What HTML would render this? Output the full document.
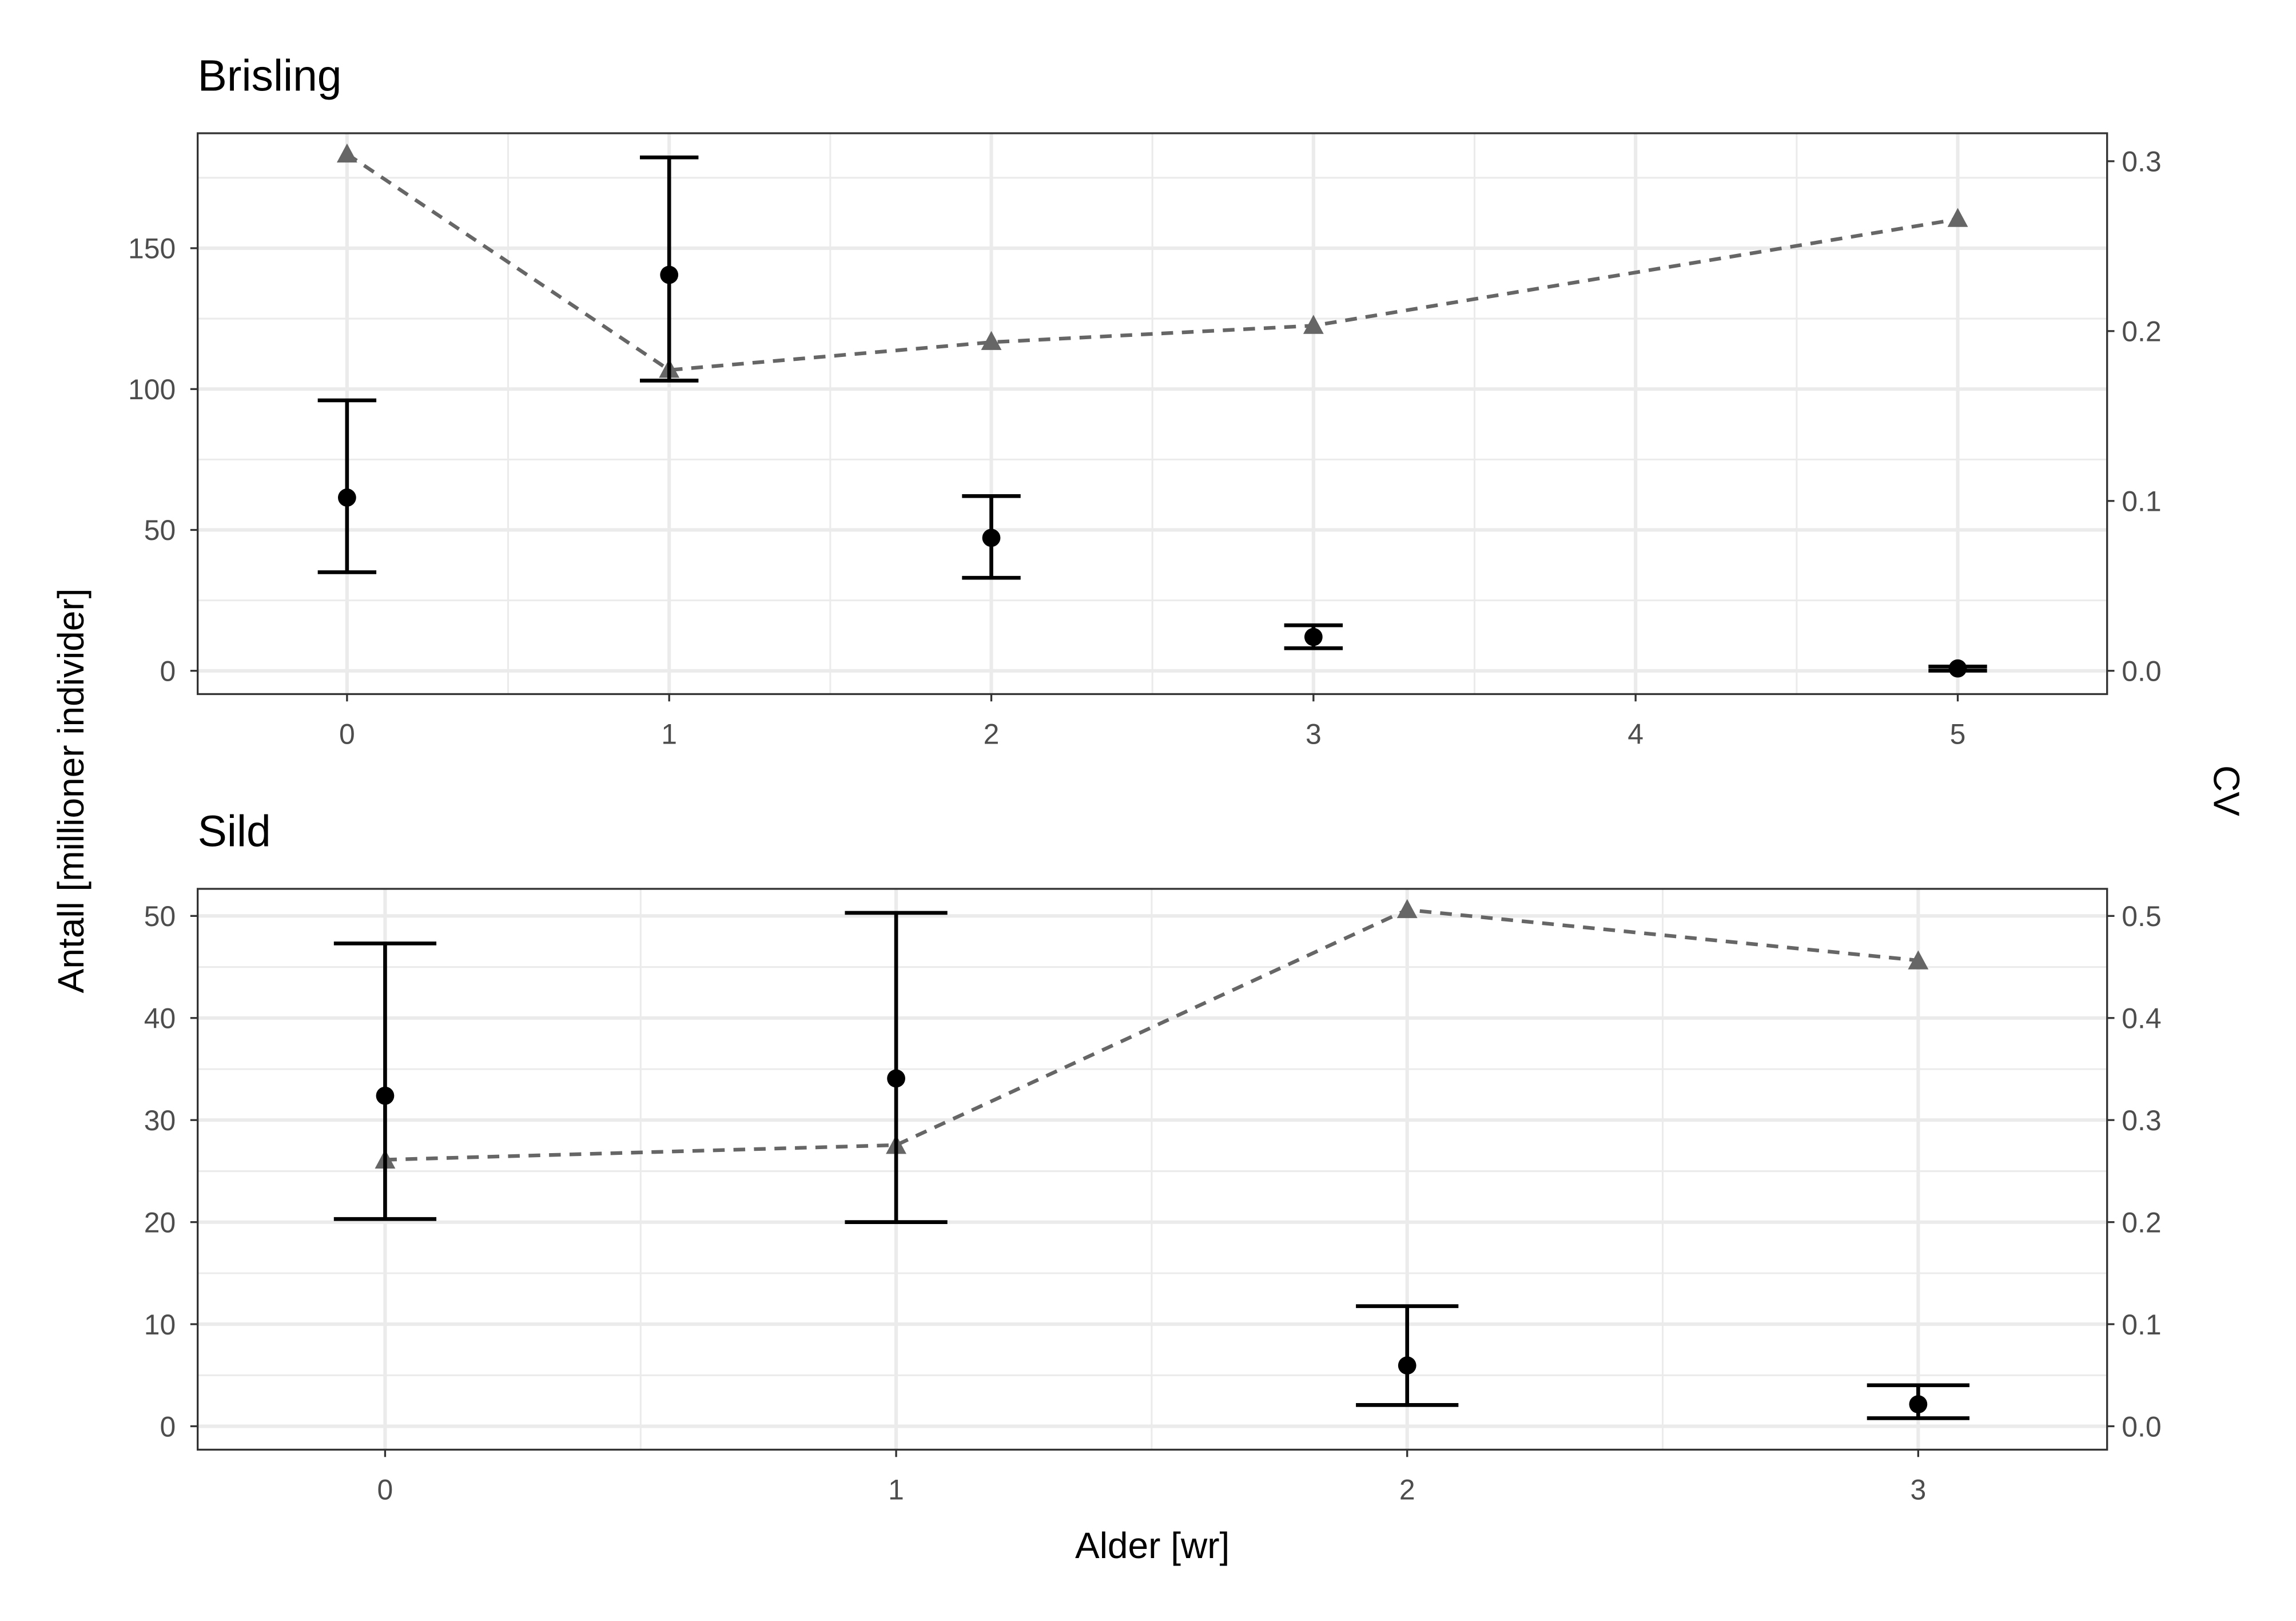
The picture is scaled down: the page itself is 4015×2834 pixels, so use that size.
<!DOCTYPE html>
<html><head><meta charset="utf-8"><style>html,body{margin:0;padding:0;background:#fff}svg{display:block}</style></head>
<body>
<svg width="4015" height="2834" viewBox="0 0 1568 1107" preserveAspectRatio="none" xmlns="http://www.w3.org/2000/svg" font-family="Liberation Sans, sans-serif">
<rect width="1568" height="1107" fill="#fff"/>
<!-- TOP PANEL -->
<g stroke="#ebebeb" stroke-width="1.2">
<line x1="135" x2="1439" y1="410" y2="410"/><line x1="135" x2="1439" y1="313.8" y2="313.8"/><line x1="135" x2="1439" y1="217.6" y2="217.6"/><line x1="135" x2="1439" y1="121.4" y2="121.4"/>
<line x1="347" x2="347" y1="91" y2="474"/><line x1="567" x2="567" y1="91" y2="474"/><line x1="787" x2="787" y1="91" y2="474"/><line x1="1007" x2="1007" y1="91" y2="474"/><line x1="1227" x2="1227" y1="91" y2="474"/>
</g>
<g stroke="#ebebeb" stroke-width="2.4">
<line x1="135" x2="1439" y1="458.1" y2="458.1"/><line x1="135" x2="1439" y1="361.9" y2="361.9"/><line x1="135" x2="1439" y1="265.7" y2="265.7"/><line x1="135" x2="1439" y1="169.5" y2="169.5"/>
<line x1="237" x2="237" y1="91" y2="474"/><line x1="457" x2="457" y1="91" y2="474"/><line x1="677" x2="677" y1="91" y2="474"/><line x1="897" x2="897" y1="91" y2="474"/><line x1="1117" x2="1117" y1="91" y2="474"/><line x1="1337" x2="1337" y1="91" y2="474"/>
</g>
<polyline points="237,105.2 457,252.7 677,233.7 897,222.4 1337,149.7" fill="none" stroke="#666" stroke-width="2.5" stroke-dasharray="8,6"/>
<g fill="#666">
<polygon points="237,98 230,111 244,111"/><polygon points="457,245 450,258 464,258"/><polygon points="677,226 670,239 684,239"/><polygon points="897,215 890,228 904,228"/><polygon points="1337,142 1330,155 1344,155"/>
</g>
<g stroke="#000" stroke-width="2.6" fill="none">
<path d="M217,273.4H257M237,273.4V390.8M217,390.8H257"/>
<path d="M437,107.5H477M457,107.5V259.9M437,259.9H477"/>
<path d="M657,338.8H697M677,338.8V394.6M657,394.6H697"/>
<path d="M877,427H917M897,427V442.7M877,442.7H917"/>
<path d="M1317,455.2H1357M1337,455.2V458M1317,458H1357"/>
</g>
<g fill="#000">
<circle cx="237" cy="339.8" r="6.2"/><circle cx="457" cy="187.7" r="6.2"/><circle cx="677" cy="367.3" r="6.2"/><circle cx="897" cy="435" r="6.2"/><circle cx="1337" cy="456.5" r="6.2"/>
</g>
<rect x="135" y="91" width="1304" height="383" fill="none" stroke="#333" stroke-width="1.3"/>
<g stroke="#333" stroke-width="1.3">
<line x1="130" x2="135" y1="458.1" y2="458.1"/><line x1="130" x2="135" y1="361.9" y2="361.9"/><line x1="130" x2="135" y1="265.7" y2="265.7"/><line x1="130" x2="135" y1="169.5" y2="169.5"/>
<line x1="1439" x2="1444" y1="458.1" y2="458.1"/><line x1="1439" x2="1444" y1="342.1" y2="342.1"/><line x1="1439" x2="1444" y1="226.1" y2="226.1"/><line x1="1439" x2="1444" y1="110.1" y2="110.1"/>
<line x1="237" x2="237" y1="474" y2="479"/><line x1="457" x2="457" y1="474" y2="479"/><line x1="677" x2="677" y1="474" y2="479"/><line x1="897" x2="897" y1="474" y2="479"/><line x1="1117" x2="1117" y1="474" y2="479"/><line x1="1337" x2="1337" y1="474" y2="479"/>
</g>
<g fill="#4d4d4d" font-size="19.5" text-anchor="end">
<text x="120" y="465">0</text><text x="120" y="368.8">50</text><text x="120" y="272.6">100</text><text x="120" y="176.4">150</text>
</g>
<g fill="#4d4d4d" font-size="19.5">
<text x="1449" y="465">0.0</text><text x="1449" y="349">0.1</text><text x="1449" y="233">0.2</text><text x="1449" y="117">0.3</text>
</g>
<g fill="#4d4d4d" font-size="19.5" text-anchor="middle">
<text x="237" y="508">0</text><text x="457" y="508">1</text><text x="677" y="508">2</text><text x="897" y="508">3</text><text x="1117" y="508">4</text><text x="1337" y="508">5</text>
</g>
<text x="135" y="62" font-size="30">Brisling</text>

<!-- BOTTOM PANEL -->
<g stroke="#ebebeb" stroke-width="1.2">
<line x1="135" x2="1439" y1="939.2" y2="939.2"/><line x1="135" x2="1439" y1="869.5" y2="869.5"/><line x1="135" x2="1439" y1="799.8" y2="799.8"/><line x1="135" x2="1439" y1="730.1" y2="730.1"/><line x1="135" x2="1439" y1="660.4" y2="660.4"/>
<line x1="437.5" x2="437.5" y1="607" y2="990"/><line x1="786.5" x2="786.5" y1="607" y2="990"/><line x1="1135.5" x2="1135.5" y1="607" y2="990"/>
</g>
<g stroke="#ebebeb" stroke-width="2.4">
<line x1="135" x2="1439" y1="974" y2="974"/><line x1="135" x2="1439" y1="904.3" y2="904.3"/><line x1="135" x2="1439" y1="834.6" y2="834.6"/><line x1="135" x2="1439" y1="764.9" y2="764.9"/><line x1="135" x2="1439" y1="695.2" y2="695.2"/><line x1="135" x2="1439" y1="625.5" y2="625.5"/>
<line x1="263" x2="263" y1="607" y2="990"/><line x1="612" x2="612" y1="607" y2="990"/><line x1="961" x2="961" y1="607" y2="990"/><line x1="1310" x2="1310" y1="607" y2="990"/>
</g>
<polyline points="263,792 612,782 961,621.3 1310,655.9" fill="none" stroke="#666" stroke-width="2.5" stroke-dasharray="8,6"/>
<g fill="#666">
<polygon points="263,785 256,798 270,798"/><polygon points="612,775 605,788 619,788"/><polygon points="961,614 954,627 968,627"/><polygon points="1310,649 1303,662 1317,662"/>
</g>
<g stroke="#000" stroke-width="2.6" fill="none">
<path d="M228,644.3H298M263,644.3V832.5M228,832.5H298"/>
<path d="M577,623.4H647M612,623.4V834.6M577,834.6H647"/>
<path d="M926,892H996M961,892V959.5M926,959.5H996"/>
<path d="M1275,946H1345M1310,946V968.5M1275,968.5H1345"/>
</g>
<g fill="#000">
<circle cx="263" cy="748.3" r="6.2"/><circle cx="612" cy="736.5" r="6.2"/><circle cx="961" cy="932.5" r="6.2"/><circle cx="1310" cy="959" r="6.2"/>
</g>
<rect x="135" y="607" width="1304" height="383" fill="none" stroke="#333" stroke-width="1.3"/>
<g stroke="#333" stroke-width="1.3">
<line x1="130" x2="135" y1="974" y2="974"/><line x1="130" x2="135" y1="904.3" y2="904.3"/><line x1="130" x2="135" y1="834.6" y2="834.6"/><line x1="130" x2="135" y1="764.9" y2="764.9"/><line x1="130" x2="135" y1="695.2" y2="695.2"/><line x1="130" x2="135" y1="625.5" y2="625.5"/>
<line x1="1439" x2="1444" y1="974" y2="974"/><line x1="1439" x2="1444" y1="904.3" y2="904.3"/><line x1="1439" x2="1444" y1="834.6" y2="834.6"/><line x1="1439" x2="1444" y1="764.9" y2="764.9"/><line x1="1439" x2="1444" y1="695.2" y2="695.2"/><line x1="1439" x2="1444" y1="625.5" y2="625.5"/>
<line x1="263" x2="263" y1="990" y2="995"/><line x1="612" x2="612" y1="990" y2="995"/><line x1="961" x2="961" y1="990" y2="995"/><line x1="1310" x2="1310" y1="990" y2="995"/>
</g>
<g fill="#4d4d4d" font-size="19.5" text-anchor="end">
<text x="120" y="981">0</text><text x="120" y="911.3">10</text><text x="120" y="841.6">20</text><text x="120" y="771.9">30</text><text x="120" y="702.2">40</text><text x="120" y="632.5">50</text>
</g>
<g fill="#4d4d4d" font-size="19.5">
<text x="1449" y="981">0.0</text><text x="1449" y="911.3">0.1</text><text x="1449" y="841.6">0.2</text><text x="1449" y="771.9">0.3</text><text x="1449" y="702.2">0.4</text><text x="1449" y="632.5">0.5</text>
</g>
<g fill="#4d4d4d" font-size="19.5" text-anchor="middle">
<text x="263" y="1024">0</text><text x="612" y="1024">1</text><text x="961" y="1024">2</text><text x="1310" y="1024">3</text>
</g>
<text x="135" y="578" font-size="30">Sild</text>

<!-- axis titles -->
<text x="787" y="1064" font-size="25" text-anchor="middle">Alder [wr]</text>
<text transform="translate(57,540) rotate(-90)" font-size="25" text-anchor="middle">Antall [millioner individer]</text>
<text transform="translate(1512,540) rotate(90)" font-size="25" text-anchor="middle">CV</text>
</svg>
</body></html>
